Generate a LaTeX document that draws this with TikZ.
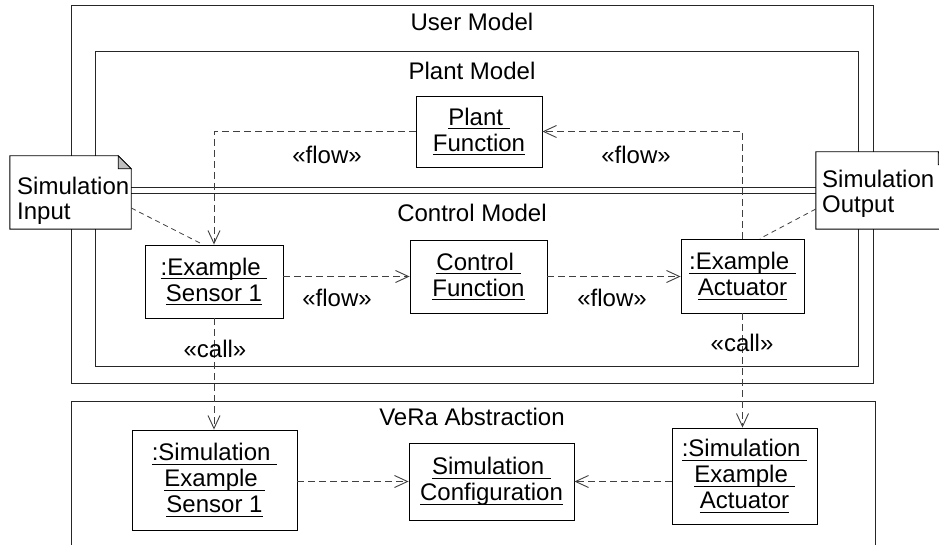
\documentclass[tikz,border=0pt]{standalone}
\usepackage{fontspec}
\setmainfont{Liberation Sans}
\usetikzlibrary{arrows.meta}
\newcommand\ulx[1]{\setbox0\hbox{#1}\rlap{\rule[-4pt]{\wd0}{0.9pt}}\box0}
\tikzset{
  frame/.style={draw=black!85, line width=1pt},
  title/.style={anchor=base, inner sep=0pt, font=\fontsize{24}{26}\selectfont},
  obj/.style={draw=black, line width=0.9pt, fill=white, align=center, inner sep=0pt, font=\fontsize{24}{26}\selectfont},
  notebg/.style={fill=white, inner sep=0pt},
  noteline/.style={draw=black, line width=0.9pt},
  foldst/.style={draw=black, fill=black!25, line width=0.7pt},
  notetext/.style={anchor=north west, align=left, inner sep=0pt, font=\fontsize{24}{25.5}\selectfont},
  lbl/.style={inner sep=0pt, font=\fontsize{24}{26}\selectfont},
  flowarr/.style={draw=black!75, line width=0.9pt, dash pattern=on 7pt off 4pt, -{Straight Barb[length=13pt,width=12pt,line width=0.9pt]}},
  anchorline/.style={draw=black!75, line width=0.8pt, dash pattern=on 5pt off 4pt}
}
\begin{document}
\begin{tikzpicture}[x=1pt,y=-1pt]
\useasboundingbox (0,0) rectangle (939,545);
\clip (0,0) rectangle (939,545);
\fill[white] (0,0) rectangle (939,545);
% frames
\draw[frame] (71,6) rectangle (873,383);
\draw[frame] (95,52) rectangle (858,188);
\draw[frame] (95,194) rectangle (858,366);
\draw[frame] (71,401) rectangle (875,580);
\node[title] (tuser) at (472,31) {User Model};
\node[title] (tplant) at (472,80) {Plant Model};
\node[title] (tctrl) at (472,222) {Control Model};
\node[title] (tvera) at (472,425) {VeRa Abstraction};
% notes
\node[notebg, minimum width=121pt, minimum height=73pt] (sin) at (70.5,192.5) {};
\draw[noteline] (sin.north west) -- ([xshift=-13pt]sin.north east) -- ([yshift=-13pt]sin.north east) -- (sin.south east) -- (sin.south west) -- cycle;
\filldraw[foldst] ([xshift=-13pt]sin.north east) -- ([xshift=-13pt,yshift=-13pt]sin.north east) -- ([yshift=-13pt]sin.north east) -- cycle;
\node[notetext] (sintext) at (17,176.5) {Simulation\\Input};
\node[notebg, minimum width=135pt, minimum height=77pt] (sout) at (883.5,190.5) {};
\draw[noteline] (sout.north west) -- ([xshift=-13pt]sout.north east) -- ([yshift=-13pt]sout.north east) -- (sout.south east) -- (sout.south west) -- cycle;
\filldraw[foldst] ([xshift=-13pt]sout.north east) -- ([xshift=-13pt,yshift=-13pt]sout.north east) -- ([yshift=-13pt]sout.north east) -- cycle;
\node[notetext] (souttext) at (822,169.5) {Simulation\\Output};
% objects
\node[obj, minimum width=126pt, minimum height=71pt] (pf) at (479,131.5) {\ulx{Plant\ }\\\ulx{Function}};
\node[obj, minimum width=138pt, minimum height=73pt] (sens) at (214,281.5) {\ulx{:Example\ }\\\ulx{Sensor 1}};
\node[obj, minimum width=137pt, minimum height=73pt] (cf) at (478.5,276.5) {\ulx{Control\ }\\\ulx{Function}};
\node[obj, minimum width=123pt, minimum height=74pt] (act) at (742.5,276) {\ulx{:Example\ }\\\ulx{Actuator}};
\node[obj, minimum width=165pt, minimum height=100pt] (ssens) at (214.5,480) {\ulx{:Simulation\ }\\\ulx{Example\ }\\\ulx{Sensor 1}};
\node[obj, minimum width=165pt, minimum height=77pt] (sconf) at (491.5,481.5) {\ulx{Simulation\ }\\\ulx{Configuration}};
\node[obj, minimum width=145pt, minimum height=96pt] (sact) at (744.5,476) {\ulx{:Simulation\ }\\\ulx{Example\ }\\\ulx{Actuator}};
% connectors
\draw[flowarr] (pf.west) -| (sens.north);
\draw[flowarr] (act.north) |- (pf.east);
\draw[flowarr] (sens.east |- cf.west) -- (cf.west);
\draw[flowarr] (cf.east) -- (act.west |- cf.east);
\draw[flowarr] (sens.south) -- (sens.south |- ssens.north);
\draw[flowarr] (act.south) -- (act.south |- sact.north);
\draw[flowarr] (ssens.east |- sconf.west) -- (sconf.west);
\draw[flowarr] (sact.west |- sconf.east) -- (sconf.east);
\draw[anchorline] ([yshift=-15.5pt]sin.east) -- ([xshift=-11pt]sens.north);
\draw[anchorline] ([yshift=-18.5pt]sout.west) -- ([xshift=17.5pt]act.north);
% labels
\node[lbl] (fl1) at (327,155) {«flow»};
\node[lbl] (fl2) at (636,155) {«flow»};
\node[lbl] (fl3) at (337,298) {«flow»};
\node[lbl] (fl4) at (612,298) {«flow»};
\node[lbl] (call1) at (215,349) {«call»};
\node[lbl] (call2) at (742,343) {«call»};
\end{tikzpicture}
\end{document}
